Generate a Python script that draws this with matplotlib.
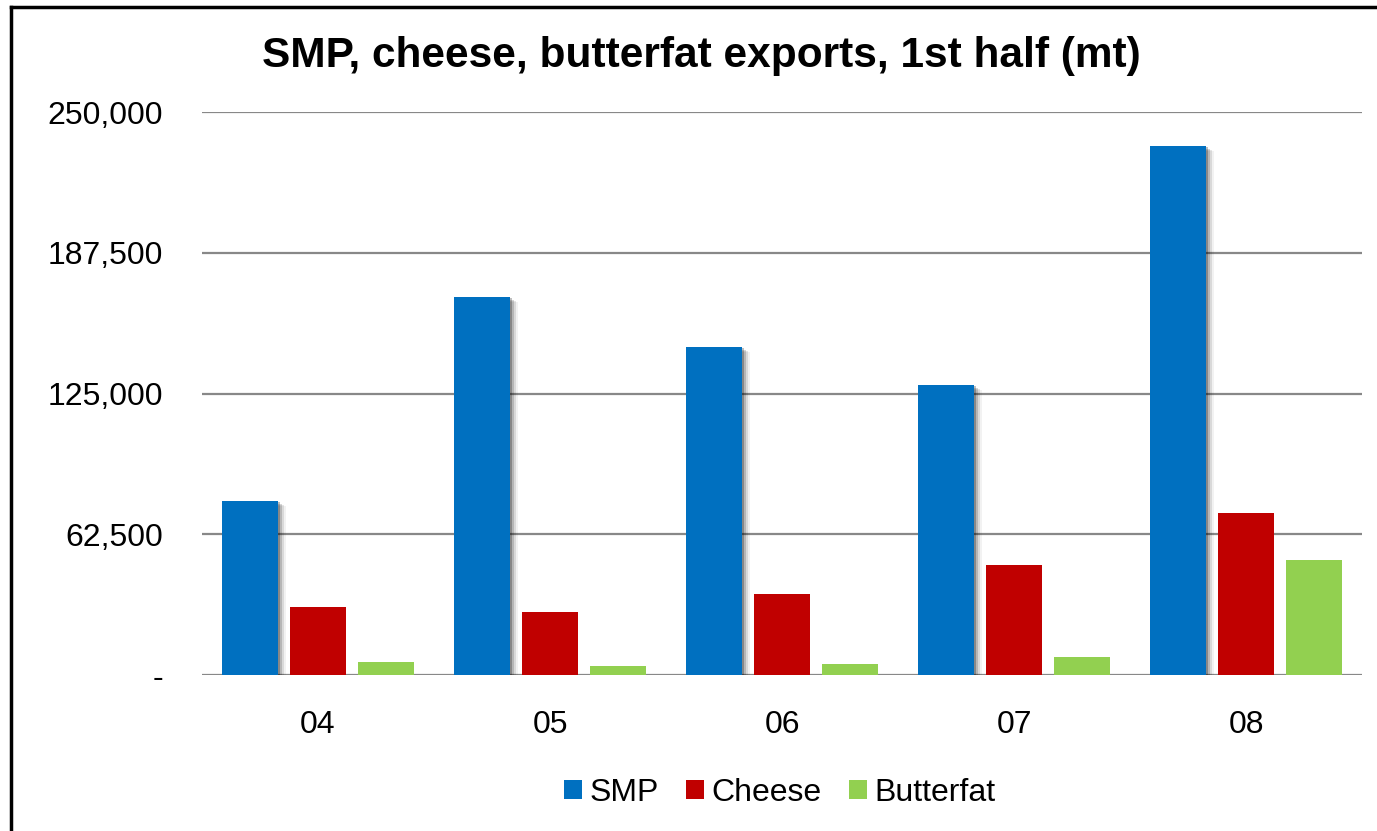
import numpy as np
from matplotlib import pyplot as plt
from matplotlib import patheffects as pe
from matplotlib.lines import Line2D

plt.rcParams['font.family'] = ['Liberation Sans', 'DejaVu Sans']

#   half-year export volumes, metric tonnes
years = ['04', '05', '06', '07', '08']
smp = [77300, 167900, 145600, 128800, 235000]
cheese = [30200, 28000, 36000, 48800, 72000]
butterfat = [5800, 4000, 4900, 8000, 51000]

yticks = [0, 62500, 125000, 187500, 250000]
ytick_labels = ['-', '62,500', '125,000', '187,500', '250,000']

fig = plt.figure(figsize=(13.77, 8.31), dpi=100)
ax = fig.add_axes([202/1377, 156/831, 1160/1377, 563/831])

x = np.arange(len(years))
w = 0.241
step = 0.293

shadow = [pe.SimplePatchShadow(offset=(1.5, -1), shadow_rgbFace='k', alpha=0.25),
          pe.SimplePatchShadow(offset=(3, -2), shadow_rgbFace='k', alpha=0.16),
          pe.SimplePatchShadow(offset=(4.5, -3), shadow_rgbFace='k', alpha=0.10),
          pe.SimplePatchShadow(offset=(6, -3.5), shadow_rgbFace='k', alpha=0.05),
          pe.Normal()]

b1 = ax.bar(x - step, smp, w, color='#0070C0', label='SMP', zorder=3)
ax.bar(x, cheese, w, color='#C00000', label='Cheese', zorder=3)
ax.bar(x + step, butterfat, w, color='#92D050', label='Butterfat', zorder=3)

ax.set_xlim(-0.5, len(years) - 0.5)
ax.set_ylim(0, 250000)
ax.set_yticks(yticks)
ax.set_yticklabels(ytick_labels)
ax.set_xticks(x)
ax.set_xticklabels(years)
ax.tick_params(axis='both', length=0, labelsize=23)
ax.tick_params(axis='y', pad=28)
ax.tick_params(axis='x', pad=25)
ax.yaxis.grid(True, color='#888888', linewidth=1.6, zorder=0)
ax.set_axisbelow(True)
for s in ax.spines.values():
    s.set_visible(False)

fig.text(701/1377, 1 - 67/831, 'SMP, cheese, butterfat exports, 1st half (mt)',
         ha='center', va='baseline', fontsize=30.5, fontweight='bold')

fig.legend(loc='center', bbox_to_anchor=(780/1377, 1 - 793/831), ncol=3,
           frameon=False, fontsize=23, handlelength=0.55, handleheight=0.55,
           handletextpad=0.25, columnspacing=0.85, borderaxespad=0)

# shadow only on the SMP bars, added after the legend so its key stays flat
for p in b1:
    p.set_path_effects(shadow)

# outer chart frame (cropped at right and bottom)
top = 1 - 7/831
left = 11/1377
fig.add_artist(Line2D([left, 1.0], [top, top], color='k', linewidth=2.5))
fig.add_artist(Line2D([left, left], [0, top], color='k', linewidth=2.5))

fig.savefig('out.png', dpi=100)
